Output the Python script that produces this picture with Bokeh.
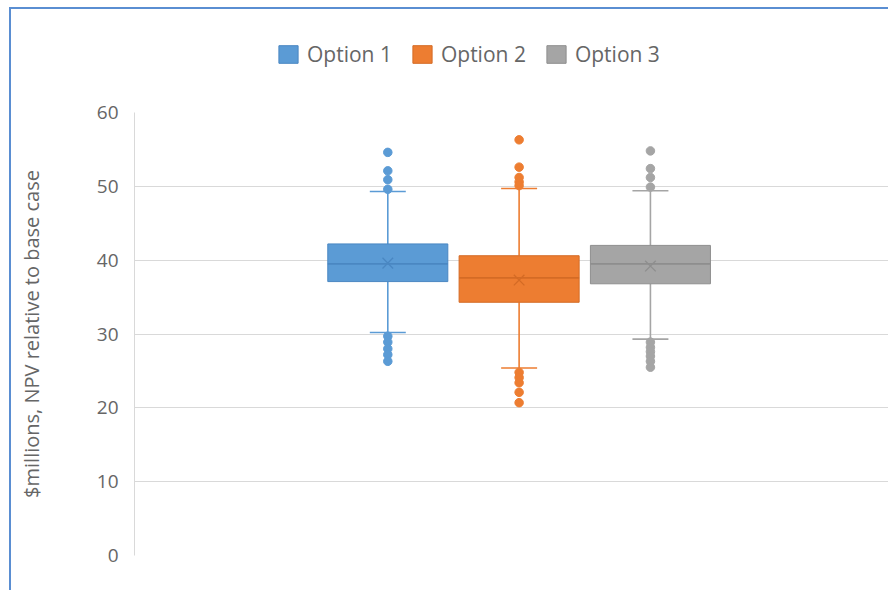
from bokeh.plotting import figure
from bokeh.layouts import column
from bokeh.models import (ColumnDataSource, Range1d, Legend, LegendItem,
                          InlineStyleSheet)
from bokeh.embed import file_html
from bokeh.resources import INLINE

# NPV simulation summary per option ($ millions relative to base case)
options = ["Option 1", "Option 2", "Option 3"]
q1 = [37.1, 34.3, 36.8]
q3 = [42.2, 40.6, 42.0]
medians = [39.5, 37.6, 39.5]
means = [39.6, 37.3, 39.2]
whisker_low = [30.2, 25.4, 29.3]
whisker_high = [49.3, 49.7, 49.4]
outliers_1 = [54.6, 52.1, 50.9, 49.6, 29.7, 28.9, 28.0, 27.2, 26.3]
outliers_2 = [56.3, 52.6, 51.2, 50.6, 50.1, 24.8, 24.1, 23.4, 22.1, 20.7]
outliers_3 = [54.8, 52.4, 51.2, 49.9, 28.9, 28.2, 27.6, 27.0, 26.3, 25.5]
y_ticks = [0, 10, 20, 30, 40, 50, 60]

fills = ["#5B9BD5", "#ED7D31", "#A5A5A5"]
edges = ["#4A87C2", "#D46B25", "#8E8E8E"]
FONT = "Open Sans"
TEXT = "#666666"
GRID = "#D9D9D9"

box_w = 0.914
cap_w = 0.274

# ---- legend strip across the top (its view is kept well away from the data) ----
head = figure(width=888, height=100, output_backend="svg", toolbar_location=None,
              x_range=Range1d(100, 101), y_range=Range1d(1000, 1001),
              min_border=0, min_border_left=0, min_border_right=0,
              min_border_top=0, min_border_bottom=0)
head.axis.visible = False
head.grid.visible = False
head.outline_line_color = None
head.background_fill_color = "white"
head.border_fill_color = "white"

# ---- box plot ----
p = figure(width=888, height=490, output_backend="svg", toolbar_location=None,
           x_range=Range1d(-0.929, 4.813), y_range=Range1d(0, 60),
           min_border_left=134, min_border_right=0, min_border_top=12,
           min_border_bottom=35)
p.background_fill_color = "white"
p.border_fill_color = "white"
p.outline_line_color = None

p.xaxis.visible = False
p.xgrid.visible = False
p.ygrid.grid_line_color = GRID
p.ygrid.grid_line_width = 1
p.yaxis.ticker = y_ticks
p.yaxis.axis_line_color = GRID
p.yaxis.major_tick_line_color = None
p.yaxis.major_tick_out = 0
p.yaxis.major_tick_in = 0
p.yaxis.minor_tick_line_color = None
p.yaxis.major_label_standoff = 16
p.yaxis.major_label_text_font = FONT
p.yaxis.major_label_text_font_size = "19px"
p.yaxis.major_label_text_color = TEXT
p.yaxis.axis_label = "$millions, NPV relative to base case"
p.yaxis.axis_label_text_font = FONT
p.yaxis.axis_label_text_font_size = "20px"
p.yaxis.axis_label_text_font_style = "normal"
p.yaxis.axis_label_text_color = TEXT
p.yaxis.axis_label_standoff = 49

outlier_sets = [outliers_1, outliers_2, outliers_3]
legend_items = []
for i, name in enumerate(options):
    x = i + 1
    src = ColumnDataSource(dict(x=[x], q1=[q1[i]], q3=[q3[i]], med=[medians[i]],
                                mean=[means[i]], lo=[whisker_low[i]], hi=[whisker_high[i]]))
    # whiskers and caps
    p.segment(x0="x", y0="q3", x1="x", y1="hi", source=src, line_color=fills[i], line_width=1.6)
    p.segment(x0="x", y0="lo", x1="x", y1="q1", source=src, line_color=fills[i], line_width=1.6)
    p.segment(x0=x - cap_w / 2, y0="hi", x1=x + cap_w / 2, y1="hi", source=src,
              line_color=fills[i], line_width=1.6)
    p.segment(x0=x - cap_w / 2, y0="lo", x1=x + cap_w / 2, y1="lo", source=src,
              line_color=fills[i], line_width=1.6)
    # box
    p.vbar(x="x", bottom="q1", top="q3", width=box_w, source=src,
           fill_color=fills[i], line_color=edges[i], line_width=1)
    # median line and mean marker
    p.segment(x0=x - box_w / 2, y0="med", x1=x + box_w / 2, y1="med", source=src,
              line_color=edges[i], line_width=1.6)
    p.scatter(x="x", y="mean", source=src, marker="x", size=15,
              line_color=edges[i], line_width=1.3)
    # outliers
    osrc = ColumnDataSource(dict(x=[x] * len(outlier_sets[i]), y=outlier_sets[i]))
    p.scatter(x="x", y="y", source=osrc, marker="circle", size=8.5,
              fill_color=fills[i], line_color=fills[i])

    # the same box in the legend strip (outside its view, only the key shows)
    key = head.vbar(x="x", bottom="q1", top="q3", width=box_w, source=src,
                    fill_color=fills[i], line_color=edges[i], line_width=1)
    legend_items.append(LegendItem(label=name, renderers=[key]))

legend = Legend(items=legend_items, orientation="horizontal", location=(142, 32),
                glyph_width=24, glyph_height=22, label_standoff=7, spacing=18,
                padding=0, margin=0, border_line_alpha=0, background_fill_alpha=0,
                label_text_font=FONT, label_text_font_size="21px",
                label_text_color=TEXT, label_height=22)
head.add_layout(legend, "center")

page = column(head, p, spacing=0)

# chart object edge (left and top)
page.stylesheets = [InlineStyleSheet(css="""
:host::after {
  content: "";
  position: absolute;
  left: 9px; top: 7px; right: 0; bottom: 0;
  border-left: 2px solid #5A8ED2;
  border-top: 2px solid #5A8ED2;
  pointer-events: none;
  z-index: 10;
}
""")]

open("out.html", "w").write(file_html(page, INLINE))
